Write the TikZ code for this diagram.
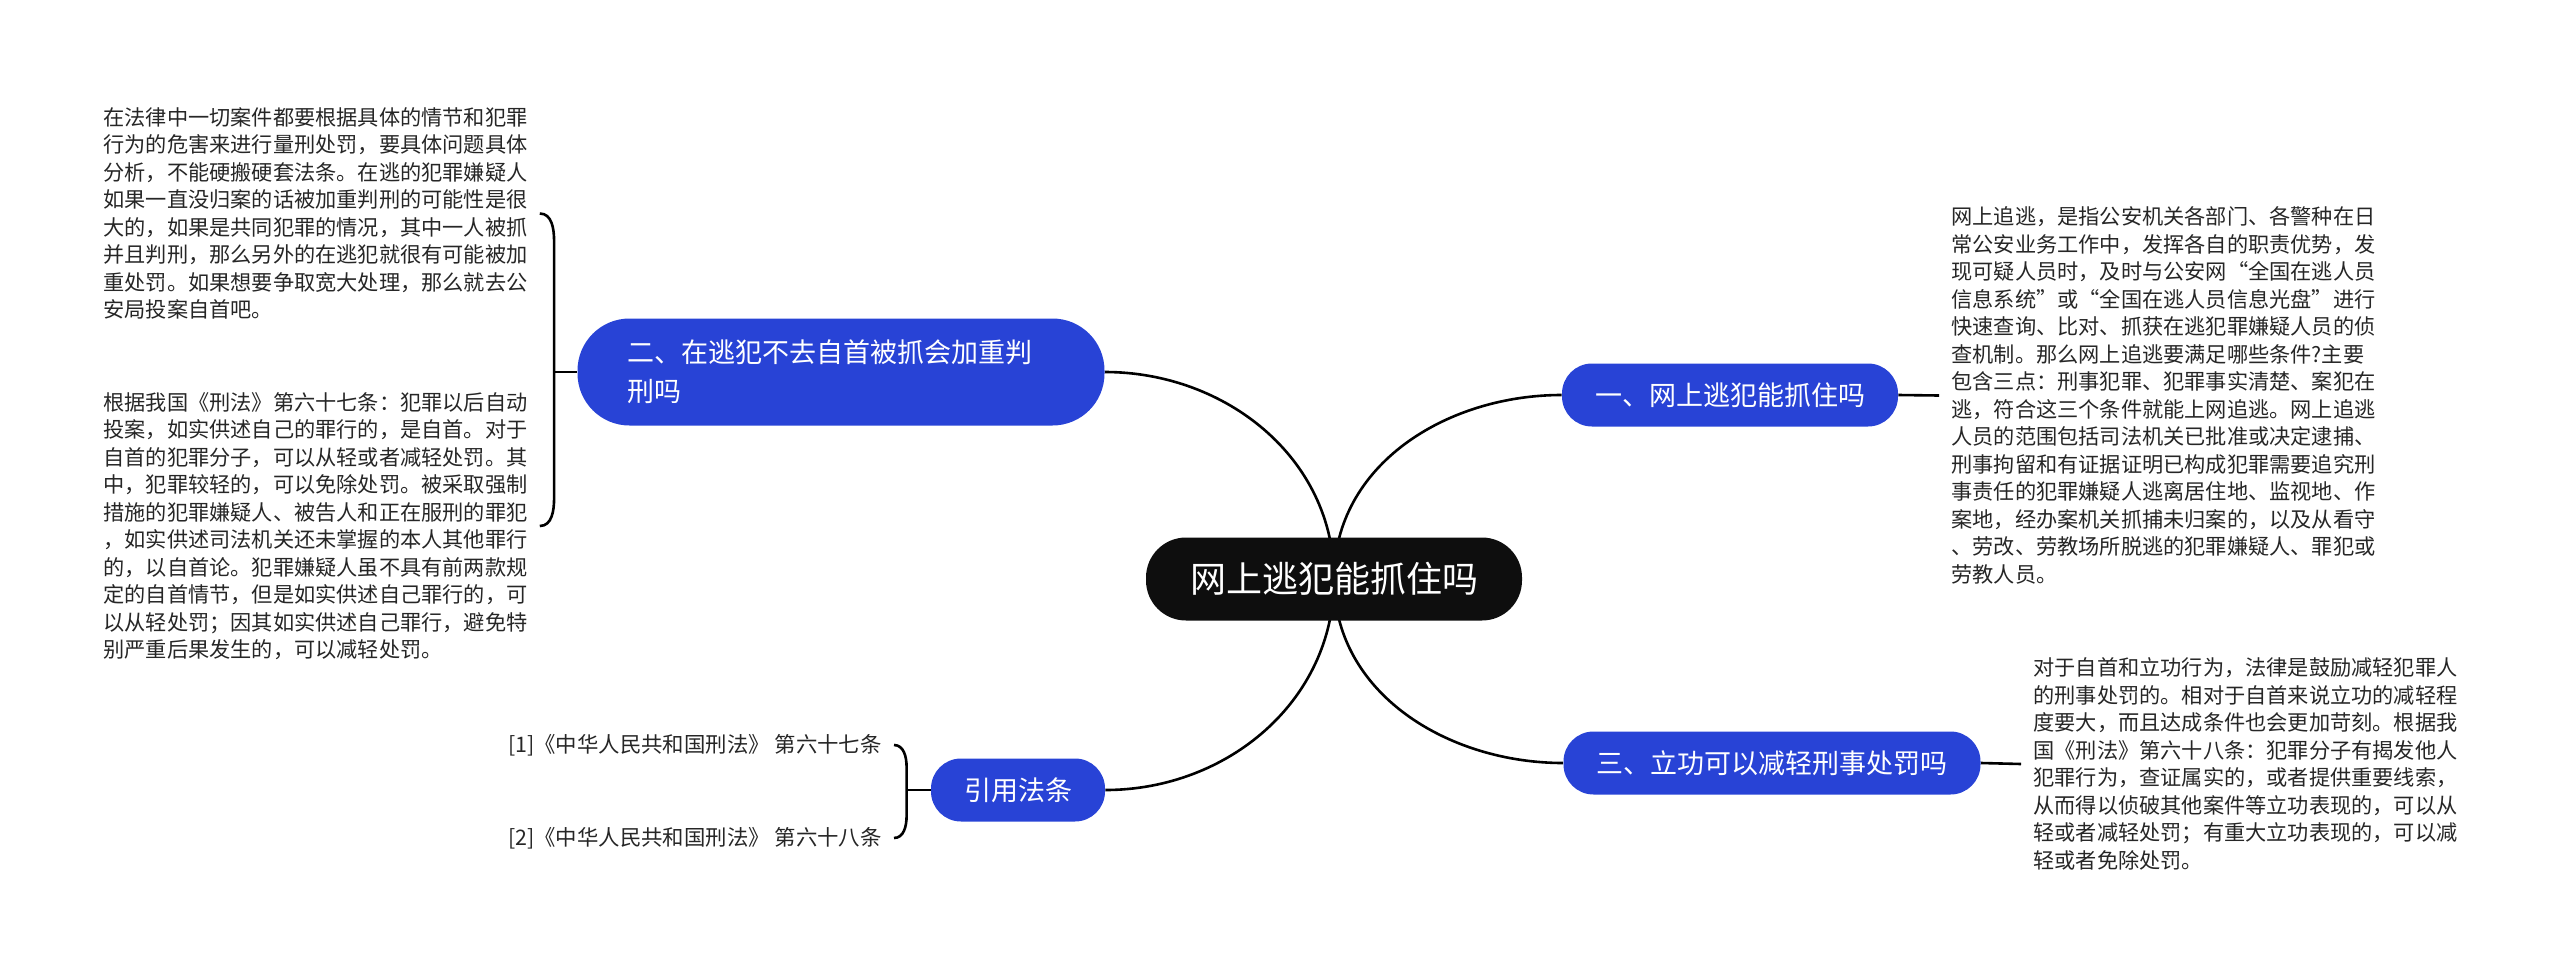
\documentclass[tikz,border=0pt]{standalone}
\usepackage{fontspec}
\setmainfont{Noto Sans CJK SC}
\usepackage{tikz}
\usetikzlibrary{calc}
\definecolor{azul}{HTML}{2843D6}
\definecolor{negro}{HTML}{0E0E0E}
\definecolor{texto}{HTML}{262626}
\pgfdeclarelayer{background}
\pgfsetlayers{background,main}

\begin{document}
\begin{tikzpicture}[
    x=0.5pt, y=0.5pt,
    % 1. NODO CENTRAL
    raiz/.style={
        fill=negro, text=white, rounded corners=20pt,
        inner xsep=22pt, minimum height=41.5pt,
        font=\fontsize{18pt}{22pt}\selectfont
    },
    % 2. RAMAS AZULES
    rama/.style={
        fill=azul, text=white, rounded corners=15pt,
        inner xsep=16.5pt, minimum height=31.5pt,
        font=\fontsize{13.5pt}{19.5pt}\selectfont
    },
    % 3. TEXTOS
    nota/.style={
        text=texto, align=left, inner xsep=6pt, inner ysep=0pt,
        font=\fontsize{10.6pt}{13.75pt}\selectfont
    },
    cita/.style={
        text=texto, align=left, inner xsep=6pt, inner ysep=0pt,
        font=\fontsize{10.7pt}{13pt}\selectfont
    },
    % 4. CONEXIONES
    conn/.style={draw=black, line width=1.3pt}
]
    \useasboundingbox (0,0) rectangle (2560,-975);

    % --- CENTRO ---
    \node[raiz] (root) at (1334,-579) {网上逃犯能抓住吗};

    % --- RAMAS ---
    \node[rama] (n1)   at (1730,-395) {一、网上逃犯能抓住吗};
    \node[rama, text width=213.5pt, inner xsep=25pt, align=left,
          rounded corners=26pt, minimum height=53.5pt]
                (n2)   at (841,-372)  {二、在逃犯不去自首被抓会加重判\\刑吗};
    \node[rama] (n3)   at (1772,-763) {三、立功可以减轻刑事处罚吗};
    \node[rama] (nref) at (1018,-790) {引用法条};

    % --- TEXTOS DERECHA ---
    \node[nota, anchor=west] (t1) at (1939,-395.5) {网上追逃，是指公安机关各部门、各警种在日\\
        常公安业务工作中，发挥各自的职责优势，发\\
        现可疑人员时，及时与公安网“全国在逃人员\\
        信息系统”或“全国在逃人员信息光盘”进行\\
        快速查询、比对、抓获在逃犯罪嫌疑人员的侦\\
        查机制。那么网上追逃要满足哪些条件?主要\\
        包含三点：刑事犯罪、犯罪事实清楚、案犯在\\
        逃，符合这三个条件就能上网追逃。网上追逃\\
        人员的范围包括司法机关已批准或决定逮捕、\\
        刑事拘留和有证据证明已构成犯罪需要追究刑\\
        事责任的犯罪嫌疑人逃离居住地、监视地、作\\
        案地，经办案机关抓捕未归案的，以及从看守\\
        、劳改、劳教场所脱逃的犯罪嫌疑人、罪犯或\\
        劳教人员。};
    \node[nota, anchor=west] (t3) at (2021,-764) {对于自首和立功行为，法律是鼓励减轻犯罪人\\
        的刑事处罚的。相对于自首来说立功的减轻程\\
        度要大，而且达成条件也会更加苛刻。根据我\\
        国《刑法》第六十八条：犯罪分子有揭发他人\\
        犯罪行为，查证属实的，或者提供重要线索，\\
        从而得以侦破其他案件等立功表现的，可以从\\
        轻或者减轻处罚；有重大立功表现的，可以减\\
        轻或者免除处罚。};

    % --- TEXTOS IZQUIERDA ---
    \node[nota, anchor=west] (t2a) at (91,-213.5) {在法律中一切案件都要根据具体的情节和犯罪\\
        行为的危害来进行量刑处罚，要具体问题具体\\
        分析，不能硬搬硬套法条。在逃的犯罪嫌疑人\\
        如果一直没归案的话被加重判刑的可能性是很\\
        大的，如果是共同犯罪的情况，其中一人被抓\\
        并且判刑，那么另外的在逃犯就很有可能被加\\
        重处罚。如果想要争取宽大处理，那么就去公\\
        安局投案自首吧。};
    \node[nota, anchor=west] (t2b) at (91,-526) {根据我国《刑法》第六十七条：犯罪以后自动\\
        投案，如实供述自己的罪行的，是自首。对于\\
        自首的犯罪分子，可以从轻或者减轻处罚。其\\
        中，犯罪较轻的，可以免除处罚。被采取强制\\
        措施的犯罪嫌疑人、被告人和正在服刑的罪犯\\
        ，如实供述司法机关还未掌握的本人其他罪行\\
        的，以自首论。犯罪嫌疑人虽不具有前两款规\\
        定的自首情节，但是如实供述自己罪行的，可\\
        以从轻处罚；因其如实供述自己罪行，避免特\\
        别严重后果发生的，可以减轻处罚。};

    % --- CITAS ---
    \node[cita, anchor=east] (c1) at (894,-745) {[1]《中华人民共和国刑法》 第六十七条};
    \node[cita, anchor=east] (c2) at (894,-838) {[2]《中华人民共和国刑法》 第六十八条};

    % ==========================================
    % CONEXIONES (debajo de los nodos)
    % ==========================================
    \coordinate (b2) at ([xshift=-11.5pt]n2.west);
    \coordinate (bref) at ([xshift=-12pt]nref.west);
    \begin{pgfonlayer}{background}
        % Centro -> ramas
        \draw[conn] (root.center) to[out=90, in=180] (n1.west);
        \draw[conn] (root.center) to[out=90, in=0] (n2.east);
        \draw[conn] (root.center) to[out=-90, in=180] (n3.west);
        \draw[conn] (root.center) to[out=-90, in=0] (nref.east);

        % Ramas -> textos
        \draw[conn] (n1.east) -- (t1.west);
        \draw[conn] (n3.east) -- (t3.west);

        % Llaves
        \draw[conn] (b2) -- (n2.west);
        \draw[conn] (t2a.east) to[out=0, in=90] ($(t2a.east -| b2)+(0,-28)$)
            -- ($(t2b.east -| b2)+(0,28)$) to[out=-90, in=0] (t2b.east);
        \draw[conn] (bref) -- (nref.west);
        \draw[conn] (c1.east) to[out=0, in=90] ($(c1.east -| bref)+(0,-22)$)
            -- ($(c2.east -| bref)+(0,22)$) to[out=-90, in=0] (c2.east);
    \end{pgfonlayer}

\end{tikzpicture}
\end{document}
